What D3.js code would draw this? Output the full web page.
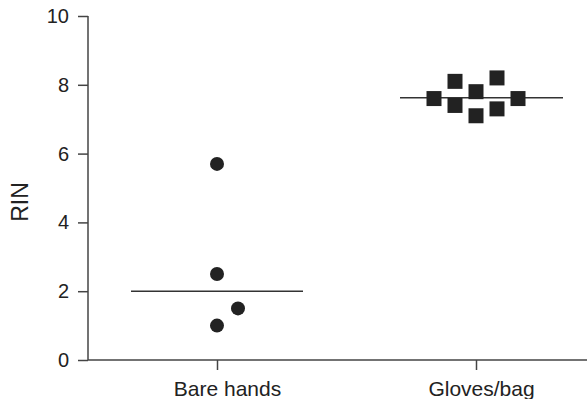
<!DOCTYPE html>
<html>
<head>
<meta charset="utf-8">
<script src="https://cdn.jsdelivr.net/npm/d3@7"></script>
<style>
  body { margin: 0; background: #fff; }
  svg { display: block; font-family: "Liberation Sans", Arial, sans-serif; }
</style>
</head>
<body>
<svg id="chart"></svg>
<script>
let categories = ['Bare hands', 'Gloves/bag']
let bareValues = [5.7, 2.5, 1.5, 1.0]
let bareJitter = [0, 0, 1, 0]
let gloveValues = [7.6, 8.1, 7.4, 7.8, 7.1, 8.2, 7.3, 7.6]
let gloveJitter = [-2, -1, -1, 0, 0, 1, 1, 2]
let medians = [2.0, 7.62]
let yTicks = [0, 2, 4, 6, 8, 10]

let opts = {
    width: 587,
    height: 399,
    axisX: 88,
    step: 21,
    ink: '#222',
    axisColor: '#444',
}

let svg = d3.select('#chart')
    .attr('width', opts.width)
    .attr('height', opts.height)

let x = d3.scalePoint()
    .domain(categories)
    .range([217, 476])

let y = d3.scaleLinear()
    .domain([0, 10])
    .range([360, 16])

// y axis
let yAxis = svg.append('g')
    .attr('transform', 'translate(' + opts.axisX + ',0)')
    .call(d3.axisLeft(y).tickValues(yTicks).tickSize(10).tickPadding(9).tickFormat(d3.format('d')))
yAxis.select('.domain').remove()
yAxis.append('line')
    .attr('y1', y(10)).attr('y2', y(0))
    .attr('stroke', opts.axisColor).attr('stroke-width', 1.5)
yAxis.selectAll('.tick line').attr('stroke', opts.axisColor).attr('stroke-width', 1.5)
yAxis.selectAll('.tick text')
    .attr('fill', '#222')
    .style('font-size', '20px')
    .style('font-family', '"Liberation Sans", Arial, sans-serif')

// x axis
let labelShift = [10, 5]
let xAxis = svg.append('g')
    .attr('transform', 'translate(0,' + y(0) + ')')
    .call(d3.axisBottom(x).tickSize(10))
xAxis.select('.domain').remove()
xAxis.append('line')
    .attr('x1', opts.axisX).attr('x2', opts.width)
    .attr('stroke', opts.axisColor).attr('stroke-width', 1.5)
xAxis.selectAll('.tick line').attr('stroke', opts.axisColor).attr('stroke-width', 1.5)
xAxis.selectAll('.tick text')
    .attr('y', 36)
    .attr('dy', 0)
    .attr('x', (d, i) => labelShift[i])
    .attr('fill', '#222')
    .style('font-size', '21px')
    .style('font-family', '"Liberation Sans", Arial, sans-serif')

// y label
svg.append('text')
    .attr('transform', 'translate(28,202) rotate(-90)')
    .attr('text-anchor', 'middle')
    .attr('fill', '#222')
    .style('font-size', '23px')
    .text('RIN')

// median lines
let medianExtent = [[-86, 86], [-76, 87]]
svg.selectAll('line.median')
    .data(medians)
    .enter().append('line')
    .attr('class', 'median')
    .attr('x1', (d, i) => x(categories[i]) + medianExtent[i][0])
    .attr('x2', (d, i) => x(categories[i]) + medianExtent[i][1])
    .attr('y1', d => y(d))
    .attr('y2', d => y(d))
    .attr('stroke', '#333')
    .attr('stroke-width', 1.5)

// bare hands points
svg.selectAll('circle.bare')
    .data(bareValues)
    .enter().append('circle')
    .attr('class', 'bare')
    .attr('cx', (d, i) => x(categories[0]) + bareJitter[i] * opts.step)
    .attr('cy', d => y(d))
    .attr('r', 7)
    .attr('fill', opts.ink)

// gloves/bag points
let sq = 15
svg.selectAll('rect.glove')
    .data(gloveValues)
    .enter().append('rect')
    .attr('class', 'glove')
    .attr('x', (d, i) => x(categories[1]) + gloveJitter[i] * opts.step - sq / 2)
    .attr('y', d => y(d) - sq / 2)
    .attr('width', sq)
    .attr('height', sq)
    .attr('fill', opts.ink)
</script>
</body>
</html>
